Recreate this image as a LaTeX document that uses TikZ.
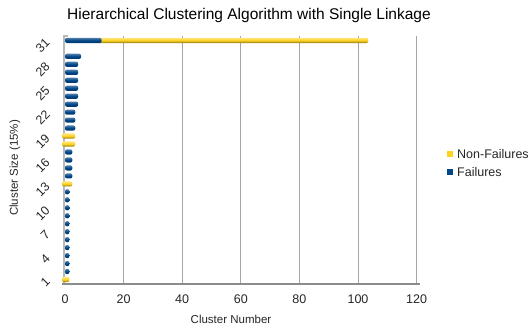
\documentclass[tikz,border=0pt]{standalone}
\usepackage{fontspec}
\setmainfont{Liberation Sans}
\definecolor{failblue}{HTML}{004586}
\definecolor{okyellow}{HTML}{FFD320}
\tikzset{
  failbar/.style={top color=failblue!70!white, bottom color=failblue!80!black, middle color=failblue, rounded corners=2pt},
  okbar/.style={top color=okyellow!60!white, bottom color=okyellow!55!black, middle color=okyellow, rounded corners=2pt},
  gridline/.style={draw=gray!70, line width=0.8pt},
  ticklabel/.style={font=\fontsize{12.5}{14}\selectfont, text=black!85},
  axislabel/.style={font=\fontsize{11.5}{14}\selectfont, text=black!85}
}
\begin{document}
\begin{tikzpicture}[x=1pt,y=-1pt]
  \useasboundingbox (0,0) rectangle (528,327);
  \node (title) at (249,15) {\fontsize{15.5}{18}\selectfont Hierarchical Clustering Algorithm with Single Linkage};
  \foreach \g in {1,...,6}
    \draw[gridline] (65+58.6*\g,36) -- (65+58.6*\g,283);
  \draw[draw=gray!55, line width=1.2pt] (68,36) -- (64,36) -- (64,283);
  \foreach \k/\f/\n in {31/12/91, 29/5/0, 28/4/0, 27/4/0, 26/4/0, 25/4/0, 24/4/0, 23/4/0, 22/3/0, 21/3/0, 20/3/0,
                        19/0/3, 18/0/3, 17/2/0, 16/2/0, 15/2/0, 14/2/0, 13/0/2,
                        12/1/0, 11/1/0, 10/1/0, 9/1/0, 8/1/0, 7/1/0, 6/1/0, 5/1/0, 4/1/0, 3/1/0, 2/1/0, 1/0/1} {
    \pgfmathsetmacro\yy{282-(\k-1)*7.97-2.5}
    \pgfmathsetmacro\xa{65+\f*2.93}
    \pgfmathsetmacro\xb{\xa+\n*2.93}
    \ifnum\n>0 \shade[okbar] (\xa-3,\yy-2.6) rectangle (\xb+1.5,\yy+2.6); \fi
    \ifnum\f>0 \shade[failbar] (65,\yy-2.6) rectangle (\xa+1.5,\yy+2.6); \fi
  }
  \draw[draw=gray!90, line width=2.5pt] (62,284) -- (420,284);
  \foreach \g in {0,...,6}
    \node[ticklabel] (x\g) at (65+58.6*\g,299) {\pgfmathparse{int(20*\g)}\pgfmathresult};
  \foreach \k in {1,4,...,31}
    \node[ticklabel, rotate=45, anchor=south east, inner sep=0pt] (y\k) at (51,{283-(\k-1)*7.97}) {\k};
  \node[axislabel] (xlabel) at (231,319) {Cluster Number};
  \node[axislabel, rotate=90] (ylabel) at (15,168) {Cluster Size (15\%)};
  \fill[okyellow] (447,151) rectangle (453,157);
  \node[ticklabel, anchor=west, inner sep=1pt] (nonfail) at (456,154) {Non-Failures};
  \fill[failblue] (447,169) rectangle (453,175);
  \node[ticklabel, anchor=west, inner sep=1pt] (fail) at (456,172) {Failures};
\end{tikzpicture}
\end{document}
